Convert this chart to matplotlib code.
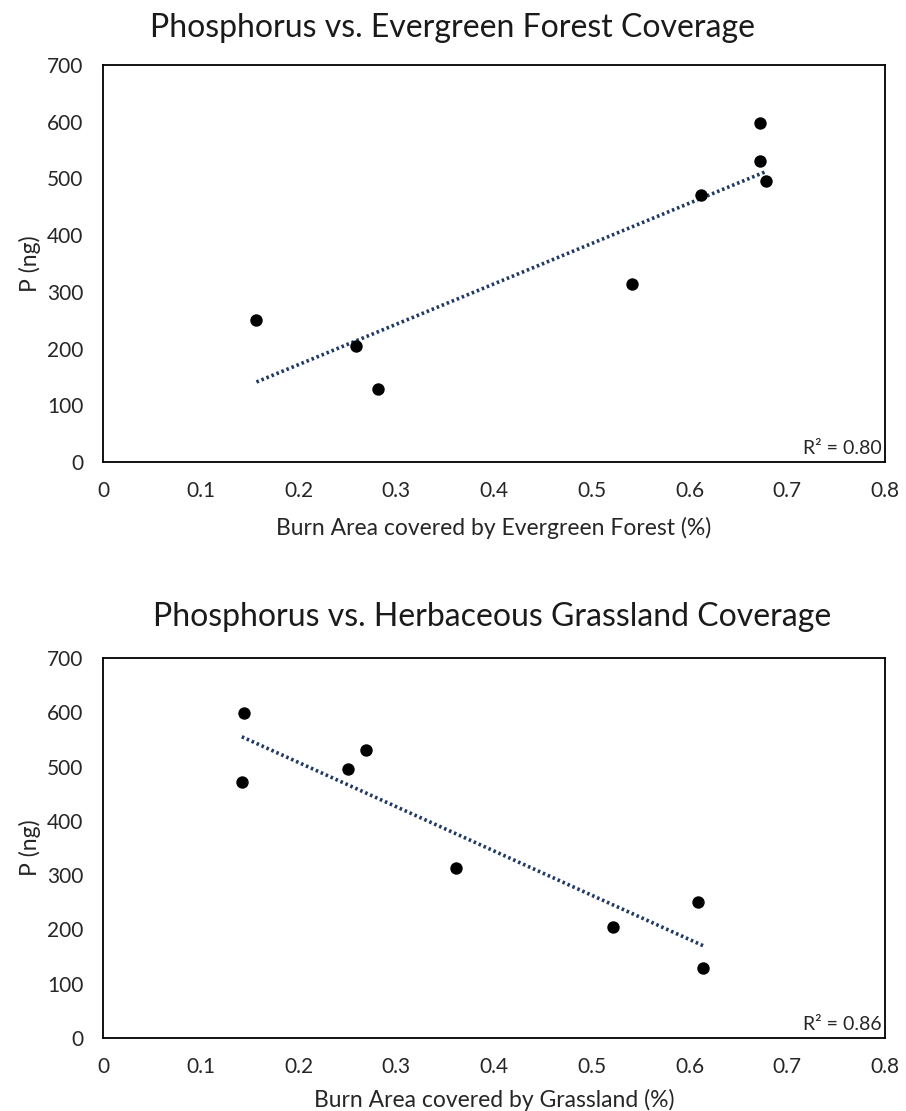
import numpy as np
import matplotlib
matplotlib.use("Agg")
import matplotlib.pyplot as plt

plt.rcParams['font.family'] = ['Lato', 'DejaVu Sans']

# Phosphorus measured at each burn site (ng)
phosphorus = [250, 204, 129, 313, 471, 531, 598, 495]
# Fraction of burn area in each land-cover class, same site order
evergreen_frac = [0.157, 0.259, 0.281, 0.541, 0.612, 0.672, 0.672, 0.678]
grassland_frac = [0.609, 0.522, 0.614, 0.361, 0.142, 0.269, 0.144, 0.251]

x_ticks = [0, 0.1, 0.2, 0.3, 0.4, 0.5, 0.6, 0.7, 0.8]
x_tick_labels = ['0', '0.1', '0.2', '0.3', '0.4', '0.5', '0.6', '0.7', '0.8']
y_ticks = [0, 100, 200, 300, 400, 500, 600, 700]

W, H = 906, 1111

panels = [
    dict(x=evergreen_frac, title='Phosphorus vs. Evergreen Forest Coverage',
         xlabel='Burn Area covered by Evergreen Forest (%)',
         box=(103, 885, 65, 462), title_xy=(452, 28), xlabel_px=66),
    dict(x=grassland_frac, title='Phosphorus vs. Herbaceous Grassland Coverage',
         xlabel='Burn Area covered by Grassland (%)',
         box=(103, 885, 658, 1038), title_xy=(492, 617), xlabel_px=62),
]

fig = plt.figure(figsize=(W / 100, H / 100), dpi=100)
text_color = '#262626'

for p in panels:
    left, right, top, bottom = p['box']
    ax = fig.add_axes([left / W, 1 - bottom / H, (right - left) / W, (bottom - top) / H])
    x = np.asarray(p['x'])
    y = np.asarray(phosphorus, dtype=float)

    ax.scatter(x, y, s=80, color='black', zorder=3, linewidths=0)

    # least-squares linear trendline over the data range
    slope, intercept = np.polyfit(x, y, 1)
    xs = np.array([x.min(), x.max()])
    ax.plot(xs, slope * xs + intercept, linestyle=(0, (0.7, 0.8)), color='#1F3864',
            linewidth=2.6, dash_capstyle='butt', zorder=2)
    pred = slope * x + intercept
    r2 = 1 - np.sum((y - pred) ** 2) / np.sum((y - y.mean()) ** 2)
    ax.text(0.996, 0.012, f'R\u00b2 = {r2:.2f}', transform=ax.transAxes,
            ha='right', va='bottom', fontsize=14, color=text_color)

    ax.set_xlim(0, 0.8)
    ax.set_ylim(0, 700)
    ax.set_xticks(x_ticks)
    ax.set_xticklabels(x_tick_labels)
    ax.set_yticks(y_ticks)
    ax.tick_params(length=0, labelsize=15, colors=text_color)
    ax.tick_params(axis='x', pad=14)
    ax.tick_params(axis='y', pad=14)
    for s in ax.spines.values():
        s.set_linewidth(1.3)
        s.set_color('black')

    ax_h = bottom - top
    ax_w = right - left
    ax.set_xlabel(p['xlabel'], fontsize=16.5, color=text_color, va='center')
    ax.xaxis.set_label_coords(0.5, -p['xlabel_px'] / ax_h)
    ax.set_ylabel('P (ng)', fontsize=16.5, color=text_color, va='center')
    ax.yaxis.set_label_coords(-73 / ax_w, 0.5)

    tx, ty = p['title_xy']
    fig.text(tx / W, 1 - ty / H, p['title'], ha='center', va='center',
             fontsize=23, color='#1a1a1a')

fig.savefig('out.png', dpi=100, facecolor='white')
